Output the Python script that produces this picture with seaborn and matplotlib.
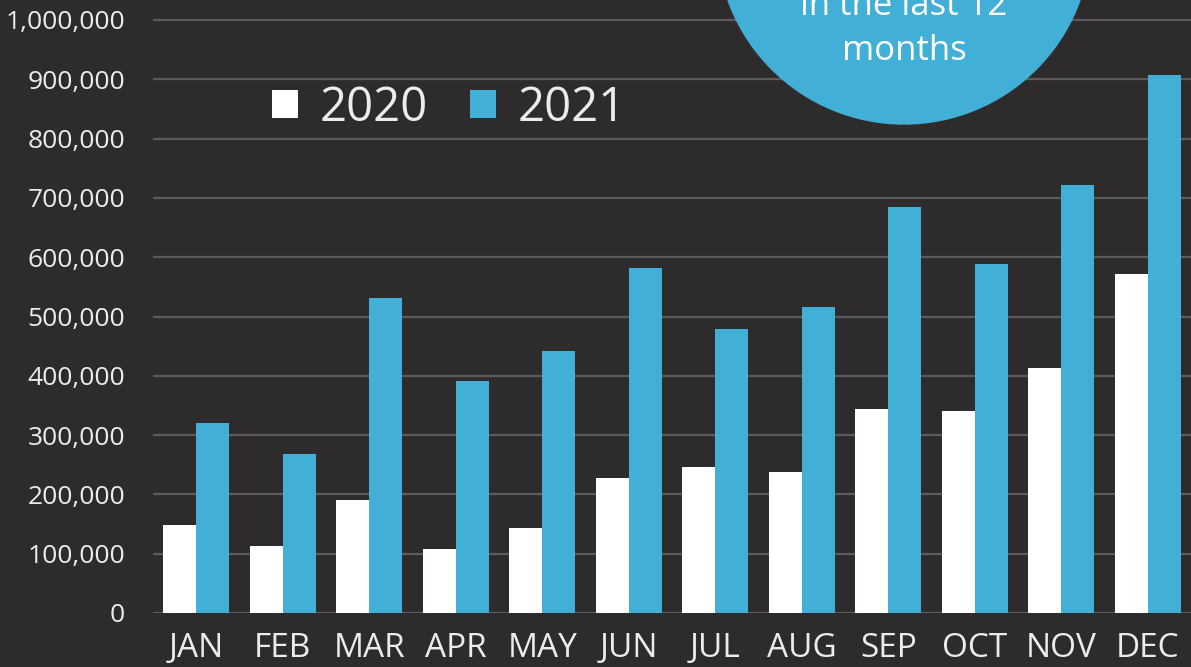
import pandas as pd
import matplotlib.pyplot as plt
import seaborn as sns
from matplotlib.patches import Ellipse
from matplotlib.ticker import FuncFormatter, MultipleLocator

# 数据
months = ['JAN', 'FEB', 'MAR', 'APR', 'MAY', 'JUN', 'JUL', 'AUG', 'SEP', 'OCT', 'NOV', 'DEC']
values_2020 = [148000, 113000, 190000, 108000, 143000, 228000, 246000, 238000, 344000, 341000, 413000, 572000]
values_2021 = [320000, 268000, 531000, 391000, 442000, 582000, 479000, 516000, 685000, 589000, 722000, 907000]
years = ['2020', '2021']

bg = '#2d2b2c'
blue = '#42b0d6'
txt = '#ececec'

df = pd.DataFrame({
    'month': months * 2,
    'value': values_2020 + values_2021,
    'year': ['2020'] * len(months) + ['2021'] * len(months),
})

sns.set_theme(style='dark')
plt.rcParams['font.family'] = ['Open Sans', 'DejaVu Sans']

fig = plt.figure(figsize=(11.91, 6.67), dpi=100, facecolor=bg)
ax = fig.add_axes([153 / 1191, 1 - 613 / 667, 1 - 153 / 1191, 613 / 667])
ax.set_facecolor(bg)

sns.barplot(data=df, x='month', y='value', hue='year', hue_order=years,
            palette={'2020': 'white', '2021': blue}, saturation=1,
            width=0.76, gap=0, ax=ax, linewidth=0)

ax.set_xlim(-0.5, 11.5)
ax.set_ylim(0, 1e6 * 613 / 593)
ax.yaxis.set_major_locator(MultipleLocator(100000))
ax.yaxis.set_major_formatter(FuncFormatter(lambda v, p: f'{v:,.0f}' if v <= 1e6 else ''))
ax.grid(axis='y', color='#5c5a5b', linewidth=1.6)
ax.set_axisbelow(True)
for s in ax.spines.values():
    s.set_visible(False)
ax.tick_params(axis='y', colors=txt, labelsize=19, pad=20, length=0)
ax.tick_params(axis='x', colors=txt, labelsize=24, pad=14, length=0)
ax.set_xlabel('')
ax.set_ylabel('')

# 图例
handles, labels = ax.get_legend_handles_labels()
if ax.get_legend():
    ax.get_legend().remove()
fig.legend(handles, labels, loc='center left', bbox_to_anchor=(272 / 1191, 1 - 108 / 667),
           ncol=2, frameon=False, fontsize=34, handlelength=0.55, handleheight=0.55,
           handletextpad=0.45, columnspacing=0.9, borderpad=0, borderaxespad=0,
           labelcolor=txt)

# 右上角圆形
circ = Ellipse((904 / 1191, 1 + 63 / 667), 374 / 1191, 374 / 667,
               transform=fig.transFigure, color=blue, zorder=5)
fig.add_artist(circ)
fig.text(904 / 1191, 1 - 15 / 667, 'in the last 12', ha='center', va='baseline',
         color='white', fontsize=25, zorder=6)
fig.text(904 / 1191, 1 - 60 / 667, 'months', ha='center', va='baseline',
         color='white', fontsize=25, zorder=6)

fig.savefig('out.png', dpi=100, facecolor=bg)
